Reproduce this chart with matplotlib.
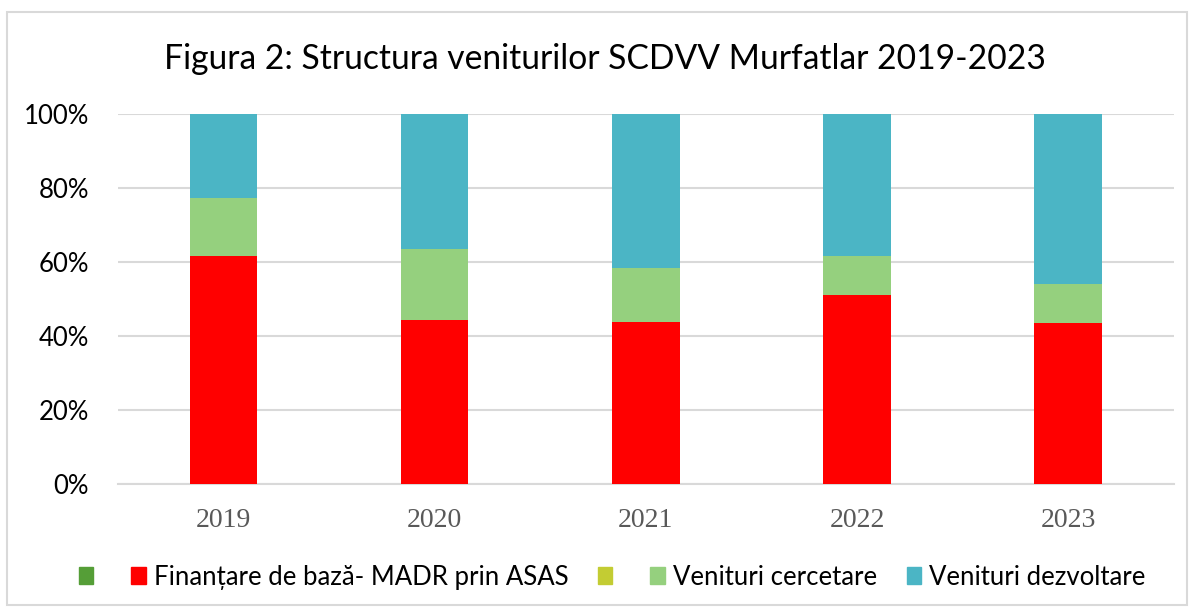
import matplotlib.pyplot as plt
import matplotlib.patches as mpatches
import numpy as np

# date (procente)
ani = ["2019", "2020", "2021", "2022", "2023"]
finantare_baza = [61.5, 44.3, 43.9, 51.2, 43.6]
venituri_cercetare = [15.8, 19.1, 14.5, 10.4, 10.5]
venituri_dezvoltare = [22.7, 36.6, 41.6, 38.4, 45.9]

labels = ["", "Finanțare de bază- MADR prin ASAS", "", "Venituri cercetare", "Venituri dezvoltare"]
culori = ["#559E37", "#FF0000", "#C3CC33", "#95D07E", "#4BB5C5"]

fig = plt.figure(figsize=(11.94, 6.09), dpi=100)
ax = fig.add_axes([0.0988, 0.2053, 0.8842, 0.6075])

x = np.arange(len(ani))
w = 0.32
ax.bar(x, finantare_baza, w, color=culori[1], zorder=3)
ax.bar(x, venituri_cercetare, w, bottom=finantare_baza, color=culori[3], zorder=3)
baza2 = np.array(finantare_baza) + np.array(venituri_cercetare)
ax.bar(x, venituri_dezvoltare, w, bottom=baza2, color=culori[4], zorder=3)

ax.set_xlim(-0.5, len(ani) - 0.5)
ax.set_ylim(0, 100)
ax.set_yticks(range(0, 101, 20))
ax.set_yticklabels([f"{v}%" for v in range(0, 101, 20)], fontsize=18.5, family="Lato")
ax.set_xticks(x)
ax.set_xticklabels(ani, fontsize=20, family="Liberation Serif", color="#595959")
ax.tick_params(length=0, axis="both")
ax.tick_params(axis="y", pad=21)
ax.tick_params(axis="x", pad=17)
ax.yaxis.grid(True, color="#D9D9D9", linewidth=1.5, zorder=0)
for s in ["top", "right", "left"]:
    ax.spines[s].set_visible(False)
ax.spines["bottom"].set_color("#D9D9D9")
ax.spines["bottom"].set_linewidth(1.5)

fig.text(0.507, 0.903, "Figura 2: Structura veniturilor SCDVV Murfatlar 2019-2023",
         ha="center", va="center", fontsize=24.2, family="Lato")

handles = [mpatches.Patch(color=c) for c in culori]
fig.legend(handles, labels, loc="center", bbox_to_anchor=(0.513, 0.052), ncol=5,
           frameon=False, prop={"family": "Lato", "size": 18.5},
           handlelength=0.55, handleheight=0.65, handletextpad=0.33, columnspacing=1.15,
           borderpad=0.2)

# chenarul graficului
fig.patches.append(mpatches.Rectangle((0.006, 0.006), 0.988, 0.974, transform=fig.transFigure,
                                      fill=False, edgecolor="#D9D9D9", linewidth=1.5))

fig.savefig("out.png", dpi=100)
